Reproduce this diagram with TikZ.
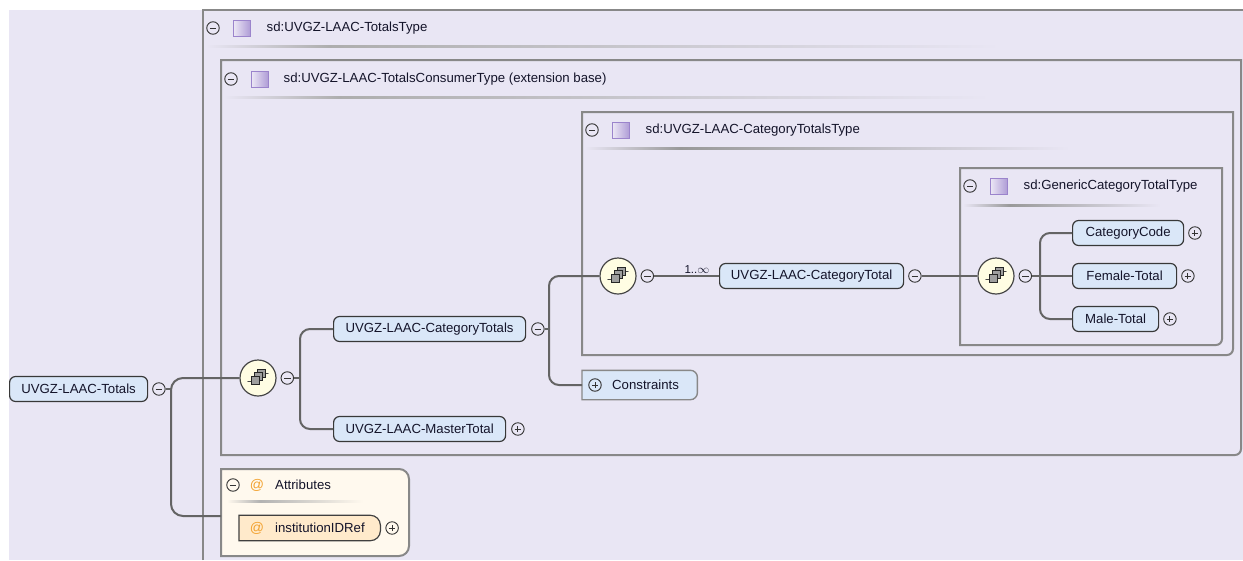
\documentclass[tikz,border=0pt]{standalone}
\usepackage{fontspec}
\setmainfont{Liberation Sans}
\usetikzlibrary{positioning,backgrounds}
\definecolor{xsbg}{HTML}{E9E6F4}
\definecolor{xsline}{HTML}{646464}
\definecolor{xsbox}{HTML}{888888}
\definecolor{xselem}{HTML}{DAE7F8}
\definecolor{xsseq}{HTML}{FFFDE3}
\definecolor{xsattr}{HTML}{FFF9EE}
\definecolor{xsattel}{HTML}{FFEACB}
\definecolor{xsat}{HTML}{F2A12E}
\definecolor{xstype}{HTML}{9B84CC}
\definecolor{xstext}{HTML}{14142A}

% frame of a type box: left, top, right, bottom (bottom right corner rounded)
\newcommand{\typeframe}[4]{%
  \draw[tbox] (#1,{(#2+#4)/2}) -- (#1,#2) -- (#3,#2) -- (#3,{(#2+#4)/2})
    [rounded corners=6pt] -- (#3,#4) -- ({(#1+#3)/2},#4) [sharp corners] -- (#1,#4) -- cycle;}

\begin{document}
\begin{tikzpicture}[x=1pt,y=-1pt,
font=\fontsize{13.2}{16}\selectfont,text=xstext,
elem/.style={draw=black!78,fill=xselem,rounded corners=6pt,line width=1.2pt,
minimum height=25pt,inner xsep=0pt,anchor=west},
btnminus/.style={circle,draw=black!80,line width=0.9pt,minimum size=12.5pt,inner sep=0pt,
path picture={\draw[line width=0.9pt] ([xshift=-3.2pt]path picture bounding box.center)
-- ([xshift=3.2pt]path picture bounding box.center);}},
btnplus/.style={circle,draw=black!80,line width=0.9pt,minimum size=12.5pt,inner sep=0pt,
path picture={\draw[line width=0.9pt] ([xshift=-3.2pt]path picture bounding box.center)
-- ([xshift=3.2pt]path picture bounding box.center)
([yshift=-3.2pt]path picture bounding box.center)
-- ([yshift=3.2pt]path picture bounding box.center);}},
seqicon/.style={circle,draw=black!72,line width=1.2pt,fill=xsseq,minimum size=36pt,inner sep=0pt,
path picture={\begin{scope}[shift={(path picture bounding box.center)}]
\draw[line width=1pt] (-12,3) -- (-7,3) (7,-5) -- (12,-5);
\fill (-12,3) circle (1.8pt) (12,-5) circle (1.8pt);
\filldraw[fill=black!38,draw=black!85,line width=0.6pt] (-1,-9) rectangle (7,-1);
\filldraw[fill=black!38,draw=black!85,line width=0.6pt] (-4,-6) rectangle (4,2);
\filldraw[fill=black!38,draw=black!85,line width=0.6pt] (-7,-2) rectangle (1,6);
\end{scope}}},
typeicon/.style={draw=xstype,line width=0.8pt,left color=xstype!18,right color=xstype!80,
minimum width=17pt,minimum height=16pt,inner sep=0pt},
atsign/.style={text=xsat,inner sep=0pt,font=\fontsize{14}{16}\selectfont},
hdr/.style={anchor=west,inner sep=0pt},
tbox/.style={draw=xsbox,line width=2pt},
cshape/.style={fill=xselem,draw=xsbox,line width=1.4pt},
ashape/.style={fill=xsattel,draw=black!75,line width=1.2pt},
blank/.style={inner sep=0pt,anchor=west},
conn/.style={draw=xsline,line width=2pt},
mult/.style={font=\fontsize{11.5}{13}\selectfont,inner sep=1.5pt}
]
\useasboundingbox (0,0) rectangle (1243,560);
\begin{scope}[on background layer]
\fill[xsbg] (9,10) rectangle (1243,560);
% type boxes
\draw[tbox] (203,560) -- (203,10) -- (1243,10);
\typeframe{221}{60}{1241}{455}
\typeframe{582}{112}{1233}{355}
\typeframe{960}{168}{1222}{345}
\draw[tbox,fill=xsattr] (221,512) -- (221,469) -- (300,469) [rounded corners=10pt]
-- (409,469) -- (409,556) -- (300,556) [sharp corners] -- (221,556) -- cycle;
\end{scope}

% header separators
\shade[left color=xsbg,right color=black!32] (206,45.5) rectangle (330,47.5);
\shade[left color=black!32,right color=xsbg] (330,45.5) rectangle (1000,47.5);
\shade[left color=xsbg,right color=black!32] (224,96.5) rectangle (340,98.5);
\shade[left color=black!32,right color=xsbg] (340,96.5) rectangle (990,98.5);
\shade[left color=xsbg,right color=black!40] (585,147.5) rectangle (680,149.5);
\shade[left color=black!40,right color=xsbg] (680,147.5) rectangle (1070,149.5);
\shade[left color=xsbg,right color=black!40] (963,204.5) rectangle (1010,206.5);
\shade[left color=black!40,right color=xsbg] (1010,204.5) rectangle (1160,206.5);
\shade[left color=xsattr,right color=black!30] (227,500.5) rectangle (260,502.5);
\shade[left color=black!30,right color=xsattr] (260,500.5) rectangle (363,502.5);

% headers
\node[btnminus] (hd1-b) at (213,28) {};
\node[typeicon,right=13pt of hd1-b] (hd1-i) {};
\node[hdr,right=16pt of hd1-i] (hd1) {sd:UVGZ-LAAC-TotalsType};
\node[btnminus] (hd2-b) at (231,79) {};
\node[typeicon,right=13pt of hd2-b] (hd2-i) {};
\node[hdr,right=15pt of hd2-i] (hd2) {sd:UVGZ-LAAC-TotalsConsumerType (extension base)};
\node[btnminus] (hd3-b) at (592,130) {};
\node[typeicon,right=13pt of hd3-b] (hd3-i) {};
\node[hdr,right=16pt of hd3-i] (hd3) {sd:UVGZ-LAAC-CategoryTotalsType};
\node[btnminus] (hd4-b) at (970,186) {};
\node[typeicon,right=13pt of hd4-b] (hd4-i) {};
\node[hdr,right=16pt of hd4-i] (hd4) {sd:GenericCategoryTotalType};
\node[btnminus] (att-b) at (233,485) {};
\node[atsign] (att-at) at (257,485) {@};
\node[hdr] (att) at (275,485) {Attributes};

% elements
\node[elem,minimum width=138pt] (tot) at (9,389) {UVGZ-LAAC-Totals};
\node[btnminus,right=4pt of tot] (tot-b) {};
\node[seqicon] (seq1) at (258,378) {};
\node[btnminus,right=4pt of seq1] (seq1-b) {};
\node[elem,minimum width=192pt] (cattots) at (333,329) {UVGZ-LAAC-CategoryTotals};
\node[btnminus,right=5pt of cattots] (cattots-b) {};
\node[elem,minimum width=172pt] (master) at (333,429) {UVGZ-LAAC-MasterTotal};
\node[btnplus,right=5pt of master] (master-b) {};
\node[seqicon] (seq2) at (618,276) {};
\node[btnminus,right=4pt of seq2] (seq2-b) {};
\node[elem,minimum width=184pt] (cattot) at (719,276) {UVGZ-LAAC-CategoryTotal};
\node[btnminus,right=4pt of cattot] (cattot-b) {};
\node[seqicon] (seq3) at (996,276) {};
\node[btnminus,right=4pt of seq3] (seq3-b) {};
\node[elem,minimum width=111pt] (catcode) at (1072,233) {CategoryCode};
\node[btnplus,right=4pt of catcode] (catcode-b) {};
\node[elem,minimum width=104pt] (female) at (1072,276) {Female-Total};
\node[btnplus,right=4pt of female] (female-b) {};
\node[elem,minimum width=86pt] (male) at (1072,319) {Male-Total};
\node[btnplus,right=4pt of male] (male-b) {};

% constraints
\node[blank,minimum width=115pt,minimum height=29pt] (cons) at (582,385) {};
\begin{scope}[on background layer]
\draw[cshape] (cons.south west) -- (cons.north west) -- (cons.north) [rounded corners=7pt]
-- (cons.north east) -- (cons.south east) -- (cons.south) [sharp corners] -- cycle;
\end{scope}
\node[btnplus] (cons-b) at ([xshift=13pt]cons.west) {};
\node[hdr] (cons-t) at ([xshift=30pt]cons.west) {Constraints};

% attribute
\node[blank,minimum width=141pt,minimum height=25pt] (inst) at (239,528) {};
\begin{scope}[on background layer]
\draw[ashape] (inst.south west) -- (inst.north west) -- (inst.north) [rounded corners=10pt]
-- (inst.north east) -- (inst.south east) -- (inst.south) [sharp corners] -- cycle;
\end{scope}
\node[atsign] (inst-at) at ([xshift=18pt]inst.west) {@};
\node[hdr] (inst-t) at ([xshift=36pt]inst.west) {institutionIDRef};
\node[btnplus,right=5pt of inst] (inst-b) {};

% connectors
\coordinate (ja) at (171,378);
\coordinate (attin) at (221,516);
\draw[conn] (tot-b.east) -- (tot-b.east -| ja);
\draw[conn,rounded corners=12pt] (seq1.west) -- (ja) |- (attin);
\coordinate (jb) at (300,378);
\draw[conn] (seq1-b.east) -- (jb);
\draw[conn,rounded corners=10pt] (cattots.west) -| (jb) |- (master.west);
\coordinate (jc) at (549,329);
\draw[conn] (cattots-b.east) -- (jc);
\draw[conn,rounded corners=10pt] (seq2.west) -| (jc) |- (cons.west);
\draw[conn] (seq2-b.east) -- node[mult,pos=0.66,above]{1..$\infty$} (cattot.west);
\draw[conn] (cattot-b.east) -- (seq3.west);
\coordinate (jd) at (1040,276);
\draw[conn] (seq3-b.east) -- (female.west);
\draw[conn,rounded corners=10pt] (catcode.west) -| (jd) |- (male.west);
\end{tikzpicture}
\end{document}
